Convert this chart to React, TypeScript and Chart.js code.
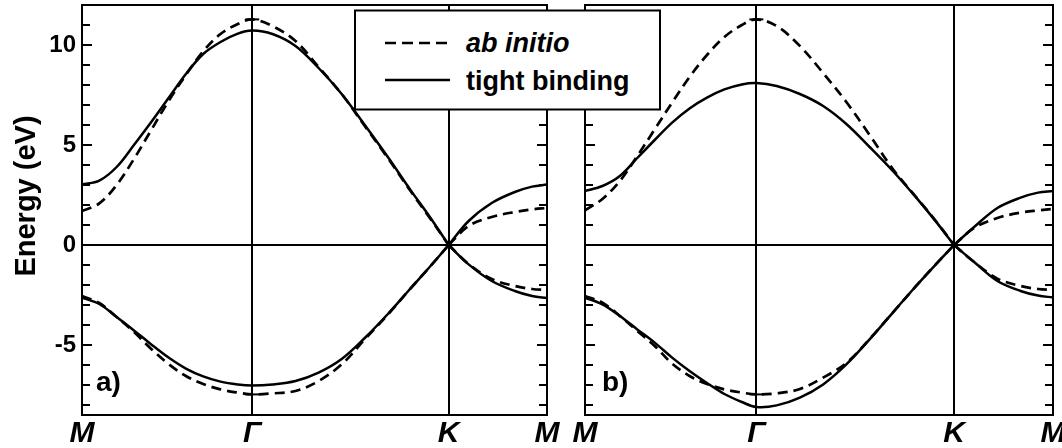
import React, { useEffect, useRef } from 'react';
import { Chart, registerables } from 'chart.js';

Chart.register(...registerables);

// k-path through the graphene Brillouin zone (1/Å): M → Γ → K → M
const K_PATH = [
  0, 0.15, 0.3, 0.45, 0.6, 0.75, 0.9, 1.05, 1.2, 1.35, 1.475,
  1.65, 1.85, 2.05, 2.25, 2.45, 2.65, 2.85, 3.02, 3.177,
  3.35, 3.55, 3.75, 3.9, 4.029,
];
const GAMMA = 1.475;
const K_POINT = 3.177;
const SYMMETRY_POINTS = [0, GAMMA, K_POINT, 4.029];
const SYMMETRY_LABELS = ['M', 'Γ', 'K', 'M'];

const ENERGY_MIN = -8.5;
const ENERGY_MAX = 12;
const ENERGY_TICKS = [-8, -7, -6, -5, -4, -3, -2, -1, 0, 1, 2, 3, 4, 5, 6, 7, 8, 9, 10, 11];
const ENERGY_LABELS = [-5, 0, 5, 10];

// Panel a) — tight-binding fit (solid) and ab initio bands (dashed), eV
const TB_A_UPPER = [3.03, 3.22, 3.9, 5.0, 6.15, 7.35, 8.55, 9.55, 10.15, 10.57, 10.72, 10.55, 9.95, 8.85, 7.55, 6.0, 4.4, 2.72, 1.35, 0, 1.2, 2.1, 2.65, 2.92, 3.02];
const TB_A_LOWER = [-2.63, -2.95, -3.6, -4.27, -4.97, -5.63, -6.18, -6.57, -6.83, -6.97, -7.02, -6.97, -6.8, -6.38, -5.7, -4.65, -3.45, -2.15, -1.05, 0, -0.97, -1.8, -2.3, -2.55, -2.65];
const AB_A_UPPER = [1.7, 2.08, 3.0, 4.3, 5.75, 7.2, 8.5, 9.68, 10.55, 11.05, 11.28, 10.95, 10.2, 8.9, 7.55, 5.95, 4.35, 2.67, 1.3, 0, 0.95, 1.4, 1.65, 1.78, 1.85];
const AB_A_LOWER = [-2.55, -2.9, -3.6, -4.35, -5.2, -5.95, -6.55, -6.95, -7.22, -7.38, -7.47, -7.42, -7.3, -6.8, -5.97, -4.72, -3.48, -2.15, -1.05, 0, -0.95, -1.7, -2.05, -2.2, -2.25];

// Panel b)
const TB_B_UPPER = [2.7, 2.95, 3.45, 4.35, 5.25, 6.12, 6.83, 7.37, 7.78, 8.03, 8.1, 7.95, 7.55, 6.95, 6.05, 4.9, 3.7, 2.38, 1.18, 0, 0.9, 1.85, 2.37, 2.62, 2.7];
const TB_B_LOWER = [-2.63, -2.97, -3.55, -4.22, -4.88, -5.63, -6.3, -6.9, -7.45, -7.85, -8.1, -8.02, -7.63, -6.97, -5.97, -4.72, -3.38, -2.05, -0.97, 0, -0.85, -1.8, -2.3, -2.53, -2.62];
const AB_B_UPPER = [1.73, 2.3, 3.2, 4.45, 5.78, 7.12, 8.4, 9.5, 10.4, 11.0, 11.28, 10.95, 9.95, 8.6, 7.15, 5.5, 3.8, 2.4, 1.2, 0, 0.85, 1.35, 1.62, 1.73, 1.8];
const AB_B_LOWER = [-2.55, -2.88, -3.55, -4.3, -5.05, -5.93, -6.55, -6.95, -7.22, -7.38, -7.47, -7.42, -7.2, -6.63, -5.9, -4.7, -3.38, -2.05, -0.97, 0, -0.85, -1.68, -2.05, -2.2, -2.25];

const FONT = "'Liberation Sans', Arial, Helvetica, sans-serif";
const NARROW_FONT = "'Liberation Sans Narrow', 'Liberation Sans', Arial, sans-serif";

type Pt = { x: number; y: number | null };

// Points of one band; the line is broken and restarted at K so the Dirac cone keeps its sharp vertex.
function bandPoints(values: number[]): Pt[] {
  const pts: Pt[] = [];
  values.forEach((v, i) => {
    pts.push({ x: K_PATH[i], y: v });
    if (K_PATH[i] === K_POINT) {
      pts.push({ x: K_POINT, y: null });
      pts.push({ x: K_POINT, y: v });
    }
  });
  return pts;
}

function bandDataset(label: string, values: number[], dashed: boolean) {
  return {
    label,
    data: bandPoints(values),
    borderColor: '#000',
    backgroundColor: '#000',
    borderWidth: dashed ? 2.7 : 2.5,
    borderDash: dashed ? [10, 6] : [],
    tension: 0.35,
    fill: false,
    spanGaps: false,
    pointStyle: 'line',
    pointRadius: (ctx: any) => (dashed && ctx.raw && ctx.raw.x === GAMMA && ctx.raw.y !== null ? 7 : 0),
    pointHoverRadius: 0,
    pointBorderWidth: 2,
    pointBorderColor: '#000',
  };
}

type Panel = {
  tag: string;
  tbUpper: number[];
  tbLower: number[];
  abUpper: number[];
  abLower: number[];
  yAxisWidth: number;
  padRight: number;
  showEnergyLabels: boolean;
  tagX: number;
};

const PANEL_A: Panel = {
  tag: 'a)', tbUpper: TB_A_UPPER, tbLower: TB_A_LOWER, abUpper: AB_A_UPPER, abLower: AB_A_LOWER,
  yAxisWidth: 82, padRight: 53, showEnergyLabels: true, tagX: 96,
};
const PANEL_B: Panel = {
  tag: 'b)', tbUpper: TB_B_UPPER, tbLower: TB_B_LOWER, abUpper: AB_B_UPPER, abLower: AB_B_LOWER,
  yAxisWidth: 25, padRight: 37, showEnergyLabels: false, tagX: 602 - 560,
};

// Frame, inward tick marks, panel tag and (for panel a) the energy axis title
const framePlugin = {
  id: 'bandFrame',
  afterDraw(chart: any, _args: any, opts: any) {
    const { ctx, chartArea } = chart;
    const { left, right, top, bottom } = chartArea;
    const y = chart.scales.y;
    ctx.save();
    ctx.strokeStyle = '#000';
    ctx.lineWidth = 2;
    ctx.strokeRect(left, top, right - left, bottom - top);
    ctx.beginPath();
    ENERGY_TICKS.forEach((v) => {
      const py = y.getPixelForValue(v);
      const len = v % 5 === 0 ? 10 : 8;
      ctx.moveTo(left, py);
      ctx.lineTo(left + len, py);
      ctx.moveTo(right, py);
      ctx.lineTo(right - len, py);
    });
    ctx.stroke();

    ctx.fillStyle = '#000';
    ctx.font = `bold 28px ${FONT}`;
    ctx.textAlign = 'left';
    ctx.textBaseline = 'alphabetic';
    ctx.fillText(opts.tag, opts.tagX, 391);

    if (opts.title) {
      ctx.translate(35, 196);
      ctx.rotate(-Math.PI / 2);
      ctx.textAlign = 'center';
      ctx.font = `bold 29px ${FONT}`;
      ctx.fillText(opts.title, 0, 0);
    }
    ctx.restore();
  },
};

function makeConfig(panel: Panel, title: string | null): any {
  return {
    type: 'line',
    data: {
      datasets: [
        bandDataset('tight binding', panel.tbUpper, false),
        bandDataset('tight binding', panel.tbLower, false),
        bandDataset('ab initio', panel.abUpper, true),
        bandDataset('ab initio', panel.abLower, true),
      ],
    },
    options: {
      responsive: false,
      animation: false,
      events: [],
      layout: { padding: { left: 0, right: panel.padRight, top: 5, bottom: 0 } },
      plugins: {
        legend: { display: false },
        tooltip: { enabled: false },
        bandFrame: { tag: panel.tag, tagX: panel.tagX, title },
      },
      scales: {
        x: {
          type: 'linear',
          min: 0,
          max: 4.029,
          afterBuildTicks: (s: any) => {
            s.ticks = SYMMETRY_POINTS.map((v) => ({ value: v }));
          },
          afterFit: (s: any) => {
            s.height = 33;
            s.paddingLeft = 0;
            s.paddingRight = 0;
          },
          grid: {
            color: (c: any) =>
              c.tick && (c.tick.value === GAMMA || c.tick.value === K_POINT) ? '#000' : 'rgba(0,0,0,0)',
            lineWidth: 2,
            drawTicks: false,
          },
          border: { display: false },
          ticks: {
            autoSkip: false,
            maxRotation: 0,
            padding: 1,
            color: '#000',
            font: { family: NARROW_FONT, size: 30, weight: 'bold', style: 'italic' },
            callback: (_v: any, i: number) => SYMMETRY_LABELS[i],
          },
        },
        y: {
          type: 'linear',
          min: ENERGY_MIN,
          max: ENERGY_MAX,
          afterBuildTicks: (s: any) => {
            s.ticks = ENERGY_TICKS.map((v) => ({ value: v }));
          },
          afterFit: (s: any) => {
            s.width = panel.yAxisWidth;
            s.paddingTop = 0;
            s.paddingBottom = 0;
          },
          grid: {
            color: (c: any) => (c.tick && c.tick.value === 0 ? '#000' : 'rgba(0,0,0,0)'),
            lineWidth: 2,
            drawTicks: false,
          },
          border: { display: false },
          ticks: {
            display: panel.showEnergyLabels,
            autoSkip: false,
            padding: 6,
            color: '#000',
            font: { family: FONT, size: 24, weight: 'bold' },
            callback: (v: any) => (ENERGY_LABELS.includes(v) ? String(v) : ''),
          },
        },
      },
    },
    plugins: [framePlugin],
  };
}

export default function App() {
  const refA = useRef<HTMLCanvasElement | null>(null);
  const refB = useRef<HTMLCanvasElement | null>(null);

  useEffect(() => {
    const charts: Chart[] = [];
    if (refA.current) charts.push(new Chart(refA.current, makeConfig(PANEL_A, 'Energy (eV)')));
    if (refB.current) charts.push(new Chart(refB.current, makeConfig(PANEL_B, null)));
    return () => charts.forEach((c) => c.destroy());
  }, []);

  return (
    <div
      style={{
        position: 'absolute', left: 0, top: 0, width: 1062, height: 448,
        overflow: 'hidden', background: '#fff',
      }}
    >
      <canvas
        ref={refA}
        width={600}
        height={448}
        style={{ position: 'absolute', left: 0, top: 0, width: 600, height: 448 }}
      />
      <canvas
        ref={refB}
        width={530}
        height={448}
        style={{ position: 'absolute', left: 560, top: 0, width: 530, height: 448 }}
      />
      <svg
        width={1062}
        height={448}
        style={{ position: 'absolute', left: 0, top: 0, pointerEvents: 'none' }}
      >
        <rect x={355} y={10.5} width={305} height={99} fill="#fff" stroke="#000" strokeWidth={2} />
        <line x1={385} y1={43} x2={450} y2={43} stroke="#000" strokeWidth={2.7} strokeDasharray="11 6" />
        <text x={466} y={52} fontFamily={FONT} fontSize={27} fontWeight="bold" fontStyle="italic" fill="#000">
          ab initio
        </text>
        <line x1={385} y1={80} x2={450} y2={80} stroke="#000" strokeWidth={2.5} />
        <text x={466} y={90} fontFamily={FONT} fontSize={27} fontWeight="bold" fill="#000">
          tight binding
        </text>
      </svg>
    </div>
  );
}
